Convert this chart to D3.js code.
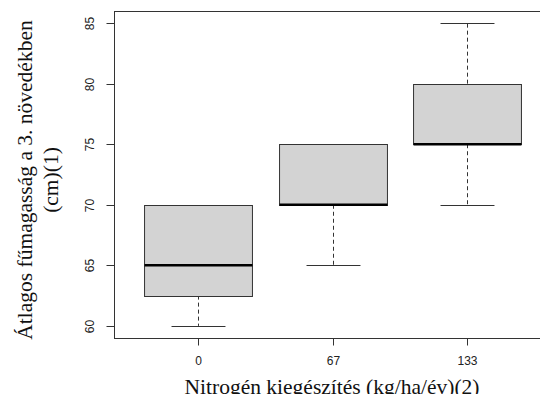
<!DOCTYPE html>
<html><head><meta charset="utf-8">
<script src="https://cdn.jsdelivr.net/npm/d3@7"></script>
<style>html,body{margin:0;padding:0;background:#fff;overflow:hidden}</style>
</head><body>
<script>
const categories = ["0", "67", "133"];
const minVals = [60, 65, 70];
const q1Vals = [62.5, 70, 75];
const medianVals = [65, 70, 75];
const q3Vals = [70, 75, 80];
const maxVals = [70, 75, 85];
const yTicks = [60, 65, 70, 75, 80, 85];

const W = 540, H = 394;
const svg = d3.select("body").append("svg").attr("width", W).attr("height", H);

const x = d3.scaleLinear().domain([0.38, 3.62]).range([114, 551]);
const y = d3.scaleLinear().domain([59, 86]).range([338, 11]);
const step = x(2) - x(1);
const boxW = step * 0.8, capW = step * 0.4;
const lineCol = "#333";

const data = categories.map((c, i) => ({c, i: i + 1, min: minVals[i], q1: q1Vals[i], med: medianVals[i], q3: q3Vals[i], max: maxVals[i]}));

const g = svg.append("g");
data.forEach(d => {
  const cx = Math.round(x(d.i)) + 0.5;
  [[d.q1, d.min], [d.q3, d.max]].forEach(([a, b]) => {
    if (a === b) return;
    g.append("line").attr("x1", cx).attr("x2", cx).attr("y1", y(a)).attr("y2", y(b))
      .attr("stroke", lineCol).attr("stroke-width", 1).attr("stroke-dasharray", "4,3");
  });
  [d.min, d.max].forEach(v => {
    g.append("line").attr("x1", cx - capW / 2).attr("x2", cx + capW / 2)
      .attr("y1", Math.round(y(v)) + 0.5).attr("y2", Math.round(y(v)) + 0.5)
      .attr("stroke", lineCol).attr("stroke-width", 1);
  });
  g.append("rect").attr("x", cx - boxW / 2).attr("width", boxW)
    .attr("y", Math.round(y(d.q3)) + 0.5).attr("height", Math.round(y(d.q1)) - Math.round(y(d.q3)))
    .attr("fill", "#d3d3d3").attr("stroke", lineCol).attr("stroke-width", 1);
  g.append("line").attr("x1", cx - boxW / 2).attr("x2", cx + boxW / 2)
    .attr("y1", y(d.med)).attr("y2", y(d.med))
    .attr("stroke", "#000").attr("stroke-width", 2.5);
});

// frame
svg.append("rect").attr("x", 114.5).attr("y", 11.5).attr("width", 551 - 114).attr("height", 338 - 11)
  .attr("fill", "none").attr("stroke", lineCol).attr("stroke-width", 1);

// y axis
const yAxis = svg.append("g").attr("transform", "translate(114.5,0)");
yTicks.forEach(t => {
  const yy = Math.round(y(t)) + 0.5;
  yAxis.append("line").attr("x1", -8).attr("x2", 0).attr("y1", yy).attr("y2", yy).attr("stroke", lineCol);
  yAxis.append("text").attr("transform", `translate(-21,${yy}) rotate(-90)`)
    .attr("text-anchor", "middle").attr("font-family", "Liberation Sans, Arial, sans-serif")
    .attr("font-size", 12).attr("fill", "#222").text(t);
});

// x axis
const xAxis = svg.append("g").attr("transform", "translate(0,338.5)");
data.forEach(d => {
  const cx = Math.round(x(d.i)) + 0.5;
  xAxis.append("line").attr("x1", cx).attr("x2", cx).attr("y1", 0).attr("y2", 7).attr("stroke", lineCol);
  xAxis.append("text").attr("x", cx).attr("y", 26.5).attr("text-anchor", "middle")
    .attr("font-family", "Liberation Sans, Arial, sans-serif").attr("font-size", 12).attr("fill", "#222").text(d.c);
});

// titles
svg.append("text").attr("x", 332).attr("y", 393.5).attr("text-anchor", "middle")
  .attr("font-family", "Liberation Serif, Times New Roman, serif").attr("font-size", 21.5).attr("fill", "#111")
  .text("Nitrogén kiegészítés (kg/ha/év)(2)");
const yt = svg.append("text").attr("transform", "translate(0,180) rotate(-90)")
  .attr("text-anchor", "middle").attr("font-family", "Liberation Serif, Times New Roman, serif")
  .attr("font-size", 21.5).attr("fill", "#111");
yt.append("tspan").attr("x", 0).attr("y", 32).text("Átlagos fűmagasság a 3. növedékben");
yt.append("tspan").attr("x", 0).attr("y", 57.5).text("(cm)(1)");
</script>
</body></html>
